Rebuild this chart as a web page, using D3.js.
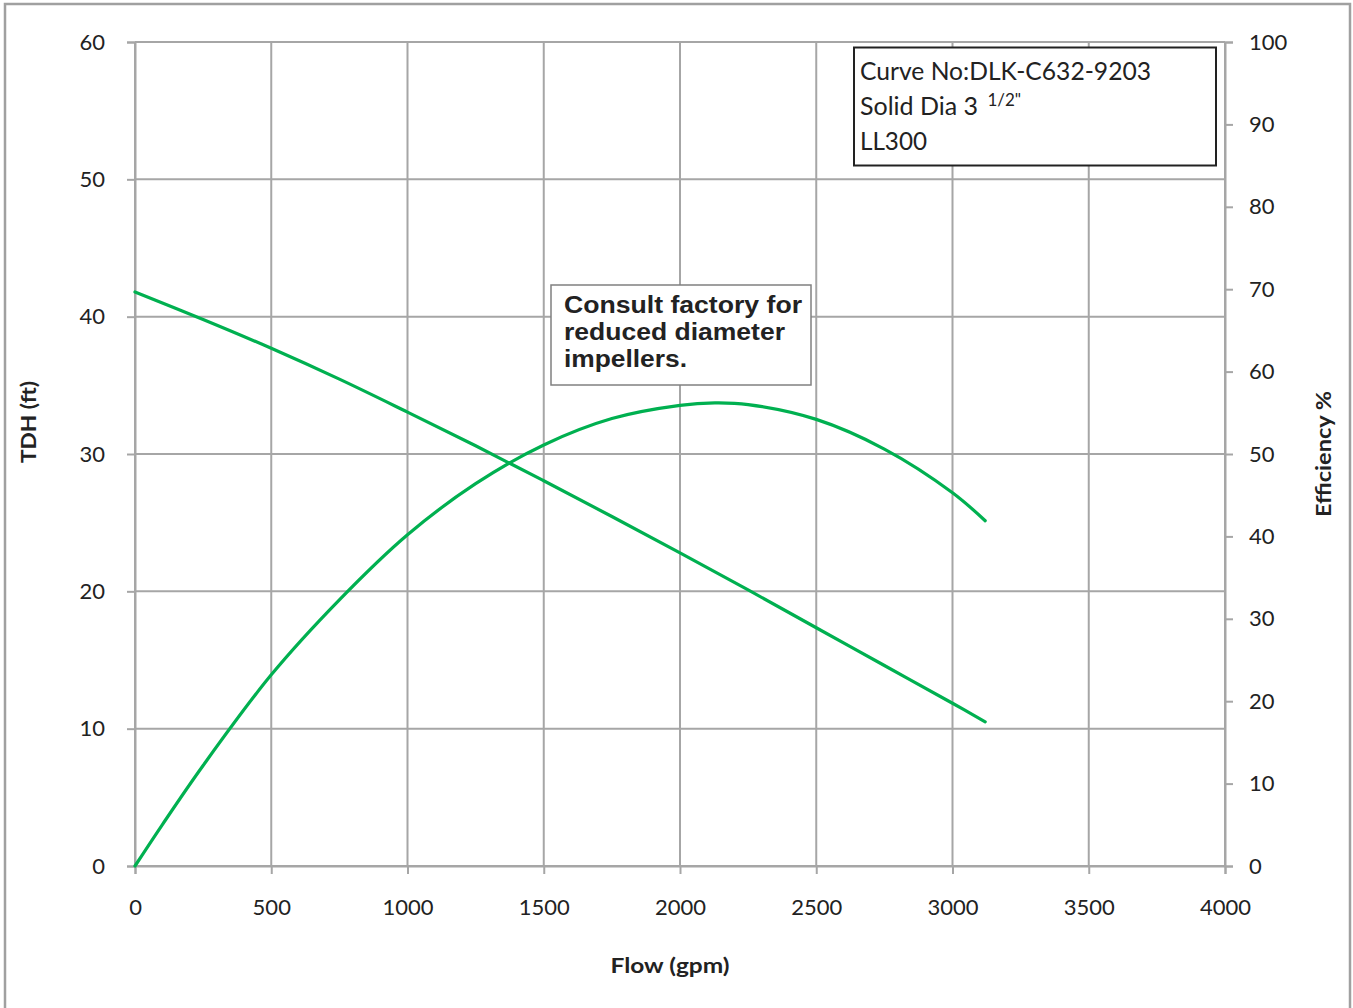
<!DOCTYPE html>
<html><head><meta charset="utf-8">
<script src="https://cdn.jsdelivr.net/npm/d3@7"></script>
<style>
body{margin:0;background:#fff;}
svg{display:block;}
</style></head>
<body>
<svg id="chart" width="1353" height="1008"></svg>
<script>
// ---- data ----
const flow = [0, 250, 500, 750, 1000, 1250, 1500, 1750, 2000, 2250, 2500, 2750, 3000, 3120];
const head = [41.8, 39.8, 37.7, 35.45, 33.05, 30.6, 28.05, 25.45, 22.8, 20.1, 17.35, 14.6, 11.85, 10.5];
const effFlow = [0, 100, 250, 500, 750, 1000, 1250, 1500, 1750, 2000, 2128, 2250, 2500, 2750, 3000, 3120];
const efficiency = [0, 5.0, 12.2, 23.2, 32.3, 40.2, 46.4, 51.1, 54.3, 55.9, 56.2, 56.0, 54.2, 50.6, 45.3, 41.9];
const xTicks = [0, 500, 1000, 1500, 2000, 2500, 3000, 3500, 4000];
const yLeftTicks = [0, 10, 20, 30, 40, 50, 60];
const yRightTicks = [0, 10, 20, 30, 40, 50, 60, 70, 80, 90, 100];
const noteLines = ["Consult factory for", "reduced diameter", "impellers."];

const svg = d3.select("#chart");
const L = 135, R = 1225, T = 42, B = 866;
const x = d3.scaleLinear().domain([0, 4000]).range([L, R]);
const yL = d3.scaleLinear().domain([0, 60]).range([B, T]);
const yR = d3.scaleLinear().domain([0, 100]).range([B, T]);
const gridColor = "#a6a6a6";
const font = "Lato, 'Open Sans', sans-serif";

// outer border
svg.append("rect").attr("x", 5).attr("y", 4).attr("width", 1345).attr("height", 1020)
  .attr("fill", "none").attr("stroke", "#a0a0a0").attr("stroke-width", 2.5);

// gridlines
svg.append("g").selectAll("line").data(xTicks).join("line")
  .attr("x1", d => x(d)).attr("x2", d => x(d)).attr("y1", T).attr("y2", B)
  .attr("stroke", gridColor).attr("stroke-width", 2);
svg.append("g").selectAll("line").data(yLeftTicks).join("line")
  .attr("x1", L).attr("x2", R).attr("y1", d => yL(d)).attr("y2", d => yL(d))
  .attr("stroke", gridColor).attr("stroke-width", 2);

// axes
function styleAxis(g) {
  g.select(".domain").attr("stroke", gridColor).attr("stroke-width", 2);
  g.selectAll(".tick line").attr("stroke", gridColor).attr("stroke-width", 2);
  g.selectAll(".tick text").attr("fill", "#222").attr("font-family", font).attr("font-size", 22);
}
const gx = svg.append("g").attr("transform", `translate(0,${B})`)
  .call(d3.axisBottom(x).tickValues(xTicks).tickSize(8).tickPadding(25).tickFormat(d3.format("d")));
styleAxis(gx);
const gl = svg.append("g").attr("transform", `translate(${L},0)`)
  .call(d3.axisLeft(yL).tickValues(yLeftTicks).tickSize(8).tickPadding(22).tickFormat(d3.format("d")));
styleAxis(gl);
const gr = svg.append("g").attr("transform", `translate(${R},0)`)
  .call(d3.axisRight(yR).tickValues(yRightTicks).tickSize(8).tickPadding(16).tickFormat(d3.format("d")));
styleAxis(gr);

// axis titles
svg.append("text").attr("x", 670).attr("y", 973).attr("text-anchor", "middle")
  .attr("font-family", font).attr("font-weight", "bold").attr("font-size", 21).attr("fill", "#222")
  .attr("textLength", 119).attr("lengthAdjust", "spacingAndGlyphs").text("Flow (gpm)");
svg.append("text").attr("transform", "translate(36,422) rotate(-90)").attr("text-anchor", "middle")
  .attr("font-family", font).attr("font-weight", "bold").attr("font-size", 21).attr("fill", "#222")
  .attr("textLength", 82).attr("lengthAdjust", "spacingAndGlyphs").text("TDH (ft)");
svg.append("text").attr("transform", "translate(1331,454) rotate(-90)").attr("text-anchor", "middle")
  .attr("font-family", font).attr("font-weight", "bold").attr("font-size", 21).attr("fill", "#222")
  .attr("textLength", 126).attr("lengthAdjust", "spacingAndGlyphs").text("Efficiency %");

// curves
const green = "#00b050";
const headLine = d3.line().x((d, i) => x(flow[i])).y(d => yL(d)).curve(d3.curveCatmullRom.alpha(0.5));
svg.append("path").attr("d", headLine(head)).attr("fill", "none")
  .attr("stroke", green).attr("stroke-width", 3.2).attr("stroke-linecap", "round");
const effLine = d3.line().x((d, i) => x(effFlow[i])).y(d => yR(d)).curve(d3.curveCatmullRom.alpha(0.5));
svg.append("path").attr("d", effLine(efficiency)).attr("fill", "none")
  .attr("stroke", green).attr("stroke-width", 3.2).attr("stroke-linecap", "round");

// curve info box
svg.append("rect").attr("x", 854).attr("y", 47.5).attr("width", 362).attr("height", 118)
  .attr("fill", "#fff").attr("stroke", "#222").attr("stroke-width", 2);
const info = svg.append("g").attr("font-family", font).attr("font-size", 25).attr("fill", "#222");
info.append("text").attr("x", 860).attr("y", 80).attr("textLength", 291)
  .attr("lengthAdjust", "spacingAndGlyphs").text("Curve No:DLK-C632-9203");
const t2 = info.append("text").attr("x", 860).attr("y", 115);
t2.append("tspan").text("Solid Dia 3 ");
t2.append("tspan").attr("font-size", 17).attr("dx", 3).attr("dy", -9).text("1/2\"");
info.append("text").attr("x", 860).attr("y", 150).attr("textLength", 67)
  .attr("lengthAdjust", "spacingAndGlyphs").text("LL300");

// note box
svg.append("rect").attr("x", 551).attr("y", 285).attr("width", 260).attr("height", 100)
  .attr("fill", "#fff").attr("stroke", "#808080").attr("stroke-width", 1.5);
const noteW = [238, 221, 123];
svg.append("g").selectAll("text").data(noteLines).join("text")
  .attr("x", 564).attr("y", (d, i) => 313 + i * 27)
  .attr("font-family", "'Liberation Sans', Arial, sans-serif").attr("font-weight", "bold")
  .attr("font-size", 23).attr("fill", "#222")
  .attr("textLength", (d, i) => noteW[i]).attr("lengthAdjust", "spacingAndGlyphs")
  .text(d => d);
</script>
</body></html>
